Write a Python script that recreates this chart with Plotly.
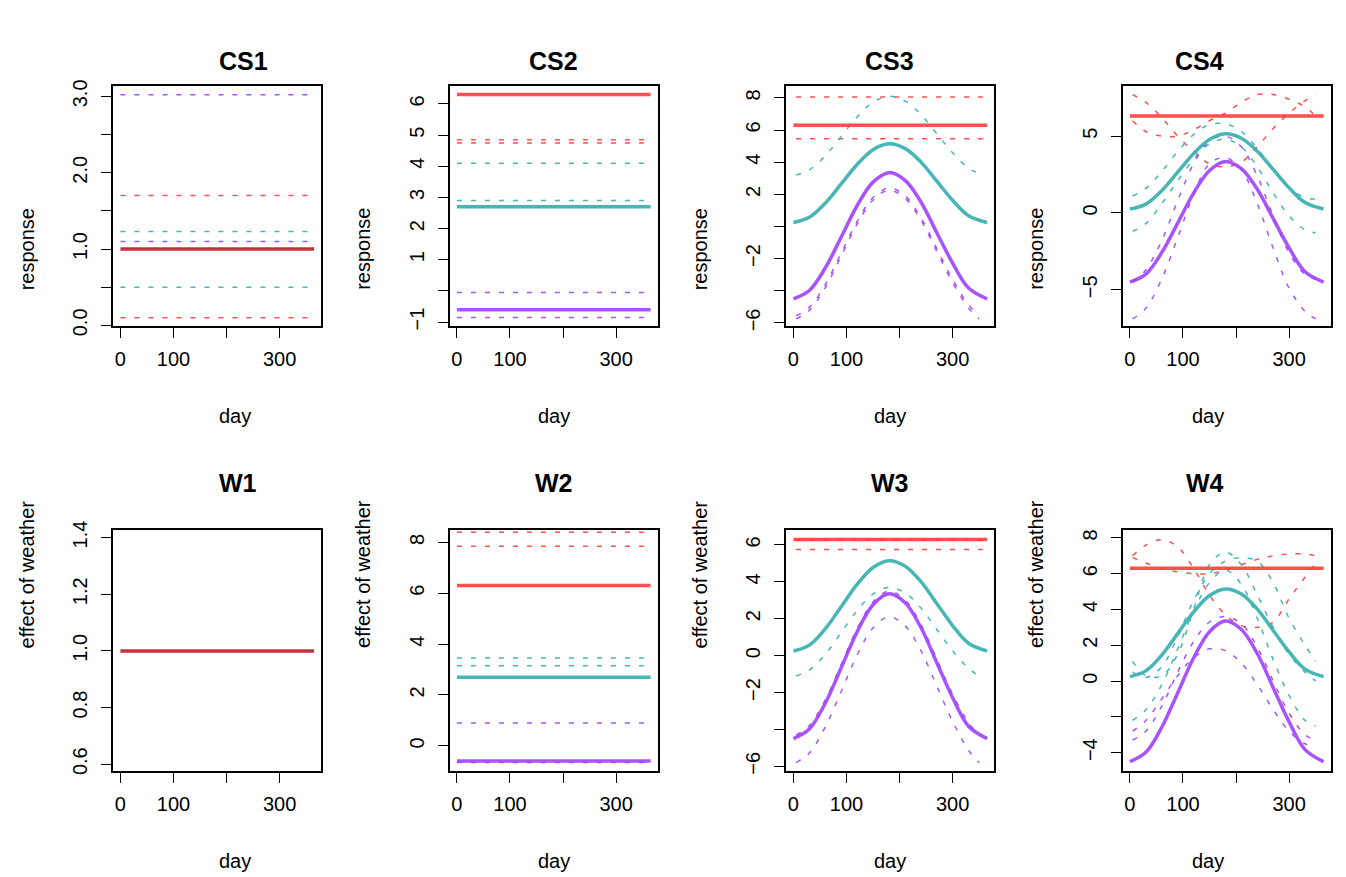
import plotly.graph_objects as go

RED = "rgba(255,60,60,0.9)"
TEAL = "rgba(60,178,178,0.95)"
PURPLE = "rgba(160,64,255,0.9)"
DARKRED = "#C8303C"

days = [0, 30, 60, 90, 120, 150, 180, 210, 240, 270, 300, 330, 365]
days_d = [5, 30, 60, 90, 120, 150, 180, 210, 240, 270, 300, 330, 350]

teal_curve = [0.25, 0.57, 1.45, 2.65, 3.86, 4.78, 5.15, 4.86, 4.02, 2.83, 1.63, 0.67, 0.25]
purple_curve = [-4.5, -3.98, -2.58, -0.66, 1.29, 2.76, 3.35, 2.88, 1.54, -0.37, -2.28, -3.83, -4.5]
red_level = 6.3

# constant panels: (value, colour, dashed)
cs1 = [(3.02, PURPLE, True), (1.70, RED, True), (1.23, TEAL, True), (1.10, PURPLE, True),
       (0.50, TEAL, True), (0.10, RED, True), (1.0, DARKRED, False)]
cs2 = [(4.85, RED, True), (4.75, RED, True), (4.10, TEAL, True), (2.90, TEAL, True),
       (-0.05, PURPLE, True), (-0.85, PURPLE, True),
       (6.3, RED, False), (2.7, TEAL, False), (-0.6, PURPLE, False)]
w1 = [(1.0, DARKRED, False)]
w2 = [(8.40, RED, True), (7.85, RED, True), (3.45, TEAL, True), (3.15, TEAL, True),
      (0.90, PURPLE, True), (-0.65, PURPLE, True),
      (6.3, RED, False), (2.7, TEAL, False), (-0.6, PURPLE, False)]

cs3_red = [8.05, 5.45]
cs3_teal = [[3.2, 3.52, 4.40, 5.60, 6.81, 7.73, 8.10, 7.81, 6.97, 5.78, 4.58, 3.62, 3.3]]
cs3_purple = [[-5.55, -5.03, -3.61, -1.66, 0.31, 1.80, 2.40, 1.92, 0.56, -1.36, -3.30, -4.87, -5.55],
              [-5.75, -5.22, -3.80, -1.84, 0.15, 1.65, 2.25, 1.77, 0.40, -1.54, -3.49, -5.07, -5.75]]

cs4_red = [[7.7, 7.2, 6.2, 5.0, 4.0, 3.2, 3.0, 3.3, 4.3, 5.5, 6.5, 7.3, 7.7],
           [6.0, 5.3, 5.0, 5.0, 5.4, 6.0, 6.5, 7.2, 7.7, 7.7, 7.4, 6.9, 6.3]]
cs4_teal = [[1.1, 1.6, 2.7, 4.0, 5.1, 5.75, 5.8, 5.3, 4.2, 2.8, 1.6, 1.0, 0.9],
            [-1.2, -0.7, 0.6, 2.1, 3.5, 4.5, 4.8, 4.3, 3.0, 1.3, -0.2, -1.1, -1.3]]
cs4_purple = [[-4.5, -3.7, -1.8, 0.8, 3.2, 4.7, 5.0, 4.3, 2.4, -0.2, -2.6, -4.0, -4.3],
              [-6.9, -6.2, -4.3, -1.6, 1.2, 3.2, 3.6, 2.8, 0.6, -2.3, -4.9, -6.4, -6.9]]

w3_red = [6.25, 5.75]
w3_teal = [[-1.1, -0.78, 0.07, 1.25, 2.44, 3.34, 3.70, 3.41, 2.59, 1.43, 0.26, -0.69, -1.1]]
w3_purple = [[-4.3, -3.79, -2.40, -0.49, 1.45, 2.91, 3.50, 3.03, 1.70, -0.19, -2.10, -3.64, -4.3],
             [-5.8, -5.28, -3.87, -1.94, 0.03, 1.50, 2.10, 1.63, 0.28, -1.64, -3.57, -5.13, -5.8]]

w4_red = [[7.0, 7.6, 7.9, 7.5, 6.3, 4.8, 3.7, 3.1, 3.0, 3.3, 4.6, 5.8, 6.6],
          [6.9, 6.6, 6.3, 6.1, 6.0, 6.0, 6.2, 6.5, 6.8, 7.0, 7.1, 7.1, 7.0]]
w4_teal = [[1.1, 0.3, 0.3, 1.5, 4.0, 6.5, 7.2, 6.5, 4.8, 3.0, 1.5, 0.5, 0.0],
           [0.5, 0.2, 0.8, 2.5, 4.5, 6.0, 6.7, 6.9, 6.7, 5.5, 3.5, 2.0, 1.1],
           [-2.2, -1.6, -0.2, 1.8, 3.9, 5.5, 6.2, 5.4, 3.5, 1.2, -0.8, -2.2, -2.5]]
w4_purple = [[-3.3, -2.8, -1.4, 0.5, 2.2, 3.3, 3.6, 3.2, 1.9, 0.0, -1.8, -3.0, -3.3],
             [-2.8, -2.2, -1.0, 0.3, 1.3, 1.8, 1.7, 1.0, -0.2, -1.6, -2.8, -3.5, -3.7]]

titles = ["CS1", "CS2", "CS3", "CS4", "W1", "W2", "W3", "W4"]
# y ticks and their labels ("" where R dropped the label)
yticks = [
    ([0, 0.5, 1, 1.5, 2, 2.5, 3], ["0.0", "", "1.0", "", "2.0", "", "3.0"], [-0.01, 3.13]),
    ([-1, 0, 1, 2, 3, 4, 5, 6], ["\u22121", "", "1", "2", "3", "4", "5", "6"], [-1.13, 6.56]),
    ([-6, -4, -2, 0, 2, 4, 6, 8], ["\u22126", "", "\u22122", "", "2", "4", "6", "8"], [-6.2, 8.71]),
    ([-5, 0, 5], ["\u22125", "0", "5"], [-7.37, 8.23]),
    ([0.6, 0.8, 1.0, 1.2, 1.4], ["0.6", "0.8", "1.0", "1.2", "1.4"], [0.575, 1.428]),
    ([0, 2, 4, 6, 8], ["0", "2", "4", "6", "8"], [-1.0, 8.5]),
    ([-6, -4, -2, 0, 2, 4, 6], ["\u22126", "", "\u22122", "0", "2", "4", "6"], [-6.27, 6.83]),
    ([-4, -2, 0, 2, 4, 6, 8], ["\u22124", "", "0", "2", "4", "6", "8"], [-5.04, 8.46]),
]

fig = go.Figure()
W, H = 1346, 877
PW = W / 4
# box top/bottom in pixels per row and title y
ROWS = [dict(top=71, bot=316, title=45), dict(top=524, bot=771, title=476)]
DASH = "5px,9px"


def add_line(i, x, y, col, dashed):
    ax = "" if i == 0 else str(i + 1)
    fig.add_trace(go.Scatter(
        x=x, y=y, mode="lines", xaxis="x" + ax, yaxis="y" + ax,
        line=dict(color=col, width=1.5 if dashed else 3.5,
                  dash=DASH if dashed else "solid", shape="spline"),
        showlegend=False, hoverinfo="skip"))


for i, spec in enumerate([cs1, cs2, w1, w2]):
    idx = [0, 1, 4, 5][i]
    for v, col, dashed in spec:
        add_line(idx, [0, 357] if dashed else [0, 365], [v, v], col, dashed)

for idx, reds, teals, purples in [(2, cs3_red, cs3_teal, cs3_purple),
                                  (3, cs4_red, cs4_teal, cs4_purple),
                                  (6, w3_red, w3_teal, w3_purple),
                                  (7, w4_red, w4_teal, w4_purple)]:
    for r in reds:
        if isinstance(r, list):
            add_line(idx, days_d, r, RED, True)
        else:
            add_line(idx, [5, 357], [r, r], RED, True)
    for t in teals:
        add_line(idx, days_d, t, TEAL, True)
    for p in purples:
        add_line(idx, days_d, p, PURPLE, True)
    add_line(idx, days, teal_curve, TEAL, False)
    add_line(idx, days, purple_curve, PURPLE, False)
    add_line(idx, [0, 365], [red_level, red_level], RED, False)

font = dict(family="Liberation Sans, Arial, sans-serif", size=20, color="black")
layout = dict(width=W, height=H, margin=dict(l=0, r=0, t=0, b=0),
              plot_bgcolor="white", paper_bgcolor="white", font=font)
annotations = []
for i in range(8):
    r, c = divmod(i, 4)
    row = ROWS[r]
    x0 = (c * PW + 105) / W
    x1 = (c * PW + 313) / W
    y0 = 1 - row["bot"] / H
    y1 = 1 - row["top"] / H
    ax = "" if i == 0 else str(i + 1)
    common = dict(showline=True, linecolor="black", linewidth=1.5, mirror=True,
                  ticks="outside", ticklen=10, tickcolor="black", tickwidth=1.3,
                  showgrid=False, zeroline=False, tickfont=font)
    layout["xaxis" + ax] = dict(common, domain=[x0, x1], range=[-14, 378],
                                tickvals=[0, 100, 200, 300], ticktext=["0", "100", "", "300"],
                                ticklabelstandoff=4, anchor="y" + ax)
    tv, tt, rng = yticks[i]
    layout["yaxis" + ax] = dict(common, domain=[y0, y1], range=rng, tickvals=tv,
                                ticktext=tt, tickangle=-90, ticklabelstandoff=6,
                                anchor="x" + ax)
    annotations.append(dict(text="<b>" + titles[i] + "</b>", x=(x0 + x1) / 2,
                            y=1 - row["title"] / H, xref="paper", yref="paper",
                            yanchor="middle", showarrow=False, font=dict(font, size=25)))
    annotations.append(dict(text="day", x=(x0 + x1) / 2, y=1 - (row["bot"] + 92) / H,
                            xref="paper", yref="paper", yanchor="middle",
                            showarrow=False, font=font))
    annotations.append(dict(text="response" if r == 0 else "effect of weather",
                            x=(c * PW + 19) / W, y=(y0 + y1) / 2, xref="paper",
                            yref="paper", xanchor="center", showarrow=False,
                            textangle=-90, font=font))
layout["annotations"] = annotations
fig.update_layout(**layout)

fig.write_html("out.html")
